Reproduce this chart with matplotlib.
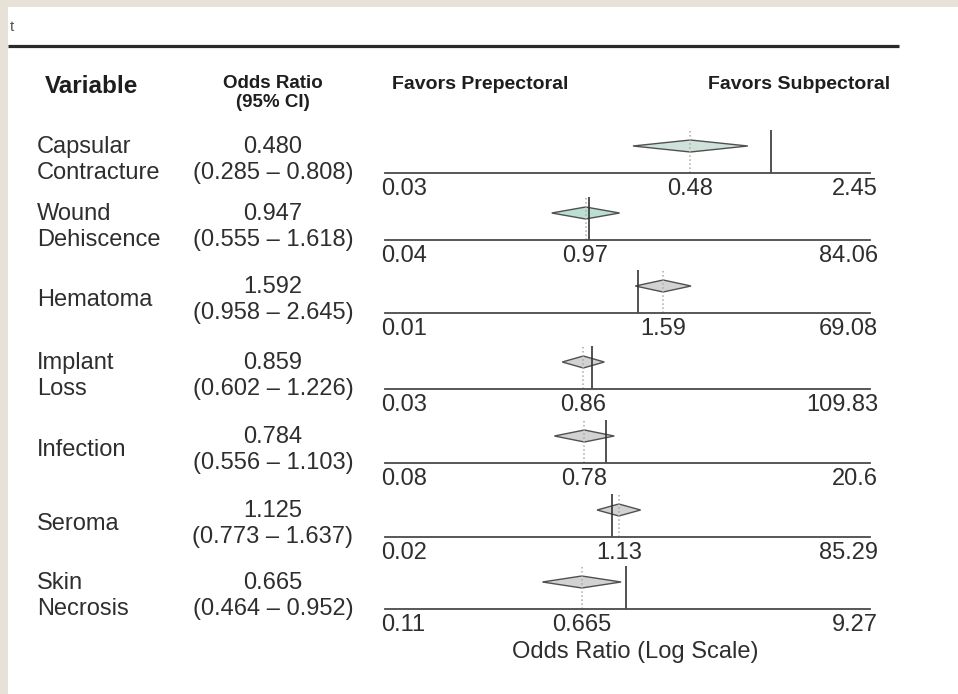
import matplotlib.pyplot as plt
from matplotlib.patches import Polygon, Rectangle

plt.rcParams['font.family'] = ['Liberation Sans', 'DejaVu Sans']

variables = ["Capsular\nContracture", "Wound\nDehiscence", "Hematoma",
             "Implant\nLoss", "Infection", "Seroma", "Skin\nNecrosis"]
odds = [0.480, 0.947, 1.592, 0.859, 0.784, 1.125, 0.665]
ci_low = [0.285, 0.555, 0.958, 0.602, 0.556, 0.773, 0.464]
ci_high = [0.808, 1.618, 2.645, 1.226, 1.103, 1.637, 0.952]
axis_min = [0.03, 0.04, 0.01, 0.03, 0.08, 0.02, 0.11]
axis_max = [2.45, 84.06, 69.08, 109.83, 20.6, 85.29, 9.27]
est_labels = ["0.48", "0.97", "1.59", "0.86", "0.78", "1.13", "0.665"]

W, H = 958, 694
txt = '#2e2e2e'
diamond_fill = ['#cfe2da', '#bcded4', '#d2d2d2', '#d2d2d2', '#d2d2d2', '#d2d2d2', '#d2d2d2']
# baseline of each row's little axis, in pixels from the top
row_y = [173, 240, 313, 389, 463, 537, 609]

fig = plt.figure(figsize=(W / 100, H / 100), dpi=100, facecolor='#e7e1d7')
bg = fig.add_axes([0, 0, 1, 1])
bg.set_xlim(0, W)
bg.set_ylim(H, 0)
bg.axis('off')
bg.add_patch(Rectangle((8, 7), W - 8, H - 7, facecolor='white', edgecolor='none'))

bg.text(10, 27, 't', fontsize=11, color='#555555', va='center')
bg.plot([8, 899], [46, 46], color='#2a2a2a', lw=2.3, solid_capstyle='butt')

# header
bg.text(45, 86, 'Variable', fontsize=17.5, fontweight='bold', color='#1e1e1e', va='center')
bg.text(273, 93, 'Odds Ratio\n(95% CI)', fontsize=13.5, fontweight='bold', color='#1e1e1e',
        ha='center', va='center', linespacing=1.2)
bg.text(392, 84, 'Favors Prepectoral', fontsize=14, fontweight='bold', color='#1e1e1e', va='center')
bg.text(890, 84, 'Favors Subpectoral', fontsize=14, fontweight='bold', color='#1e1e1e',
        va='center', ha='right')

x0, x1 = 385, 870
ax_h = 50
for i in range(len(variables)):
    y = row_y[i]
    bg.text(37, y - 13, variables[i], fontsize=17, color=txt, va='center', linespacing=1.28)
    bg.text(273, y - 13, f"{odds[i]:.3f}\n({ci_low[i]:.3f} – {ci_high[i]:.3f})",
            fontsize=17, color=txt, va='center', ha='center', linespacing=1.28)

    ax = fig.add_axes([x0 / W, (H - y) / H, (x1 - x0) / W, ax_h / H])
    ax.set_xscale('log')
    ax.set_xlim(axis_min[i], axis_max[i])
    ax.set_ylim(0, 1)
    ax.patch.set_alpha(0)
    for s in ['top', 'left', 'right']:
        ax.spines[s].set_visible(False)
    ax.spines['bottom'].set_color('#4a4a4a')
    ax.spines['bottom'].set_linewidth(1.3)
    ax.set_xticks([])
    ax.set_yticks([])
    ax.minorticks_off()

    # reference line at OR = 1 and dotted line at the estimate
    ax.vlines(1, 0, 0.86, color='#333333', lw=1.2)
    ax.vlines(odds[i], 0, 0.86, color='#b9a3a3', lw=1.1, linestyles=':')
    c, h = 0.54, 0.12
    ax.add_patch(Polygon([(ci_low[i], c), (odds[i], c + h), (ci_high[i], c), (odds[i], c - h)],
                         closed=True, facecolor=diamond_fill[i], edgecolor='#505050', lw=1.0))

    xt = ax.get_xaxis_transform()
    ax.text(-0.008, -0.32, f"{axis_min[i]:g}", transform=ax.transAxes, fontsize=17,
            color=txt, ha='left', va='center', clip_on=False)
    ax.text(1.0165, -0.32, f"{axis_max[i]:g}", transform=ax.transAxes, fontsize=17,
            color=txt, ha='right', va='center', clip_on=False)
    ax.text(odds[i], -0.32, est_labels[i], transform=xt, fontsize=17,
            color=txt, ha='center', va='center', clip_on=False)

bg.text(635, 652, 'Odds Ratio (Log Scale)', fontsize=17, color=txt, ha='center', va='center')

fig.savefig('out.png', dpi=100, facecolor=fig.get_facecolor())
